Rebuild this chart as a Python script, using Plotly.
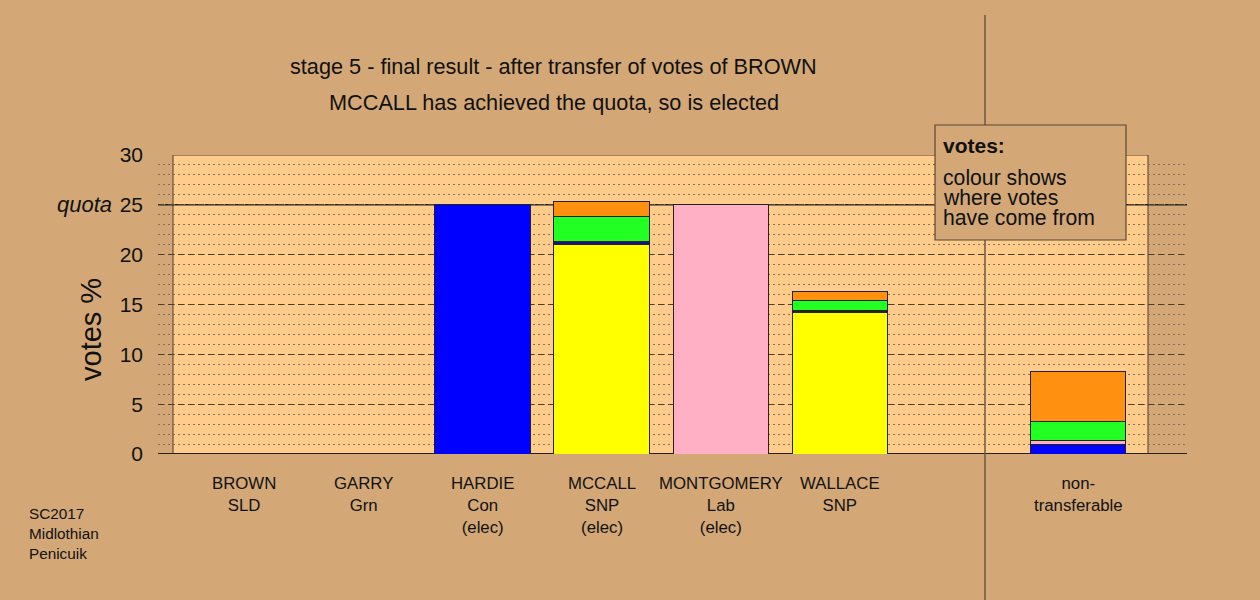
import plotly.graph_objects as go

# ---- data ----
candidates = ["BROWN<br>SLD", "GARRY<br>Grn", "HARDIE<br>Con<br>(elec)", "MCCALL<br>SNP<br>(elec)",
              "MONTGOMERY<br>Lab<br>(elec)", "WALLACE<br>SNP", "non-<br>transferable"]
positions = [0, 1, 2, 3, 4, 5, 7]
snp = [0, 0, 0, 21.0, 0, 14.2, 0]
con = [0, 0, 25.0, 0.2, 0, 0.12, 1.0]
lab = [0, 0, 0, 0.08, 25.0, 0.05, 0.35]
grn = [0, 0, 0, 2.6, 0, 1.05, 1.9]
sld = [0, 0, 0, 1.5, 0, 0.85, 5.05]
quota = 25
yticks = [0, 5, 10, 15, 20, 25, 30]
title1 = "stage 5 - final result - after transfer of votes of BROWN"
title2 = "MCCALL has achieved the quota, so is elected"
legend_title = "votes:"
legend_lines = ["colour shows", "where votes", "have come from"]
footer = "SC2017<br>Midlothian<br>Penicuik"

TAN = "#D3A876"
LIGHT = "#FFCC8C"
DARK = "#4a3a2a"
FONT = "Liberation Sans, Arial, sans-serif"

W, H = 1260, 600
L, R, T, B = 158, 1187, 155, 454


def pxx(px):
    return (px - L) / (R - L)


def pxy(py):
    return (B - py) / (B - T)


def nz(vals):
    return [v if v else None for v in vals]


fig = go.Figure()
series = [(snp, "#FFFF00"), (con, "#0000FF"), (lab, "#FFB0C4"), (grn, "#22FF22"), (sld, "#FF9010")]
for vals, col in series:
    fig.add_trace(go.Bar(x=positions, y=nz(vals), width=0.8,
                         marker=dict(color=col, line=dict(color="#222222", width=1)),
                         hoverinfo="skip"))

x0px, step = 244.3, 119.1


def dx(px):
    return (px - x0px) / step


shapes = []
shapes.append(dict(type="rect", xref="x", yref="y", x0=dx(173), x1=dx(1148), y0=0, y1=30,
                   fillcolor=LIGHT, line=dict(color=DARK, width=1), layer="below"))
shapes.append(dict(type="line", xref="x", yref="y", x0=dx(L), x1=dx(R), y0=quota, y1=quota,
                   line=dict(color="#222222", width=1.5), layer="below"))
shapes.append(dict(type="line", xref="x", yref="y", x0=dx(L), x1=dx(R), y0=0, y1=0,
                   line=dict(color="#222222", width=2), layer="below"))
shapes.append(dict(type="line", xref="paper", yref="paper", x0=pxx(985), x1=pxx(985), y0=pxy(15), y1=pxy(600),
                   line=dict(color="#6a5845", width=1.5), layer="above"))
shapes.append(dict(type="rect", xref="paper", yref="paper", x0=pxx(935), x1=pxx(1126), y0=pxy(125), y1=pxy(240),
                   fillcolor=TAN, line=dict(color="#5a4632", width=1.2), layer="above"))


def txt(text, px, py, size, xanchor="center", yanchor="middle", **kw):
    return dict(text=text, x=pxx(px), y=pxy(py), xref="paper", yref="paper", xanchor=xanchor, yanchor=yanchor,
                showarrow=False, font=dict(size=size, color="#111111", family=FONT), **kw)


ann = []
ann.append(txt(title1, 553, 66, 21.7))
ann.append(txt(title2, 554, 103, 21.7))
ann.append(dict(text="<i>quota</i>", x=pxx(114), y=quota, xref="paper", yref="y", xanchor="right",
                yanchor="middle", showarrow=False, font=dict(size=22, color="#111111", family=FONT)))
ann.append(txt("votes %", 91, 330, 29, textangle=-90))
ann.append(txt("<b>" + legend_title + "</b>", 941, 145, 21, xanchor="left"))
for t, yy in zip(legend_lines, [177, 197, 217]):
    ann.append(txt(t, 941, yy, 21.2, xanchor="left"))
ann.append(txt(footer, 27, 503, 15.3, xanchor="left", yanchor="top", align="left"))
for c, p in zip(candidates, positions):
    ann.append(dict(text=c, x=p, y=pxy(472), xref="x", yref="paper", xanchor="center", yanchor="top",
                    showarrow=False, font=dict(size=16.8, color="#111111", family=FONT)))

fig.update_layout(
    width=W, height=H,
    margin=dict(l=L, r=W - R, t=T, b=H - B, pad=0),
    paper_bgcolor=TAN, plot_bgcolor="rgba(0,0,0,0)",
    barmode="stack", showlegend=False,
    shapes=shapes, annotations=ann,
    font=dict(family=FONT, color="#111111"),
    xaxis=dict(range=[dx(L), dx(R)], showgrid=False, zeroline=False, showticklabels=False, showline=False,
               fixedrange=True),
    yaxis=dict(range=[0, 30], tickvals=yticks, ticktext=[str(v) for v in yticks], showgrid=True,
               gridcolor="#4e3e2e", gridwidth=1, griddash="6px,4px", zeroline=False, showline=False,
               ticks="", ticklabelstandoff=14, tickfont=dict(size=21, color="#111111", family=FONT),
               minor=dict(dtick=1, showgrid=True, gridcolor="#8a7058", gridwidth=1, griddash="2px,3px"),
               fixedrange=True),
)

fig.write_html("out.html", config={"displayModeBar": False},
               post_script="document.body.style.margin='0';document.body.style.background='" + TAN + "';")
